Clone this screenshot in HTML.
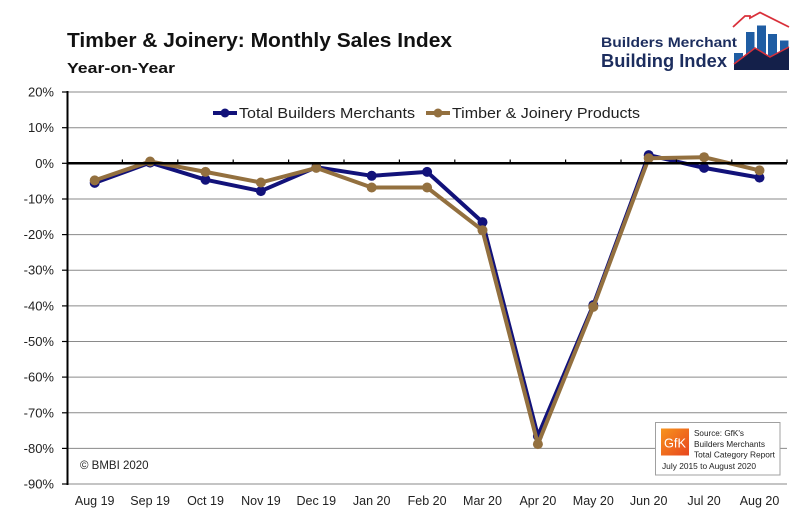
<!DOCTYPE html>
<html>
<head>
<meta charset="utf-8">
<style>
html,body{margin:0;padding:0;background:#fff;}
svg{display:block;}
text{font-family:"Liberation Sans",Arial,sans-serif;}
</style>
</head>
<body>
<svg width="800" height="522" viewBox="0 0 800 522" xmlns="http://www.w3.org/2000/svg">
<rect width="800" height="522" fill="#fff"/>
<!-- Title -->
<text x="67" y="47" font-size="20" font-weight="bold" fill="#111" textLength="385" lengthAdjust="spacingAndGlyphs">Timber &amp; Joinery: Monthly Sales Index</text>
<text x="67" y="73" font-size="15" font-weight="bold" fill="#111" textLength="108" lengthAdjust="spacingAndGlyphs">Year-on-Year</text>

<!-- Logo -->
<text x="601" y="47" font-size="14" font-weight="bold" fill="#1c2d5e" textLength="136" lengthAdjust="spacingAndGlyphs">Builders Merchant</text>
<text x="601" y="67" font-size="18" font-weight="bold" fill="#1c2d5e" textLength="126" lengthAdjust="spacingAndGlyphs">Building Index</text>
<g>
<rect x="734" y="53" width="9" height="17" fill="#1f5da3"/>
<rect x="746" y="32" width="8.5" height="38" fill="#1f5da3"/>
<rect x="757" y="25.5" width="9" height="44.5" fill="#1f5da3"/>
<rect x="768" y="34" width="9" height="36" fill="#1f5da3"/>
<rect x="780" y="40.5" width="8.5" height="29.5" fill="#1f5da3"/>
<polygon points="734,64 755,48 770,57 789,47 789,70 734,70" fill="#14204a"/>
<polyline points="734,64 755,48 770,57 789,47" fill="none" stroke="#d9303a" stroke-width="1.5"/>
<polyline points="733,27 745,16 750,16 750,18 760,12.5 789,27" fill="none" stroke="#d9303a" stroke-width="1.8"/>
</g>

<!-- Gridlines -->
<g stroke="#8a8a8a" stroke-width="1">
<line x1="67" y1="92" x2="787" y2="92"/>
<line x1="67" y1="127.7" x2="787" y2="127.7"/>
<line x1="67" y1="199" x2="787" y2="199"/>
<line x1="67" y1="234.6" x2="787" y2="234.6"/>
<line x1="67" y1="270.2" x2="787" y2="270.2"/>
<line x1="67" y1="305.9" x2="787" y2="305.9"/>
<line x1="67" y1="341.5" x2="787" y2="341.5"/>
<line x1="67" y1="377.1" x2="787" y2="377.1"/>
<line x1="67" y1="412.8" x2="787" y2="412.8"/>
<line x1="67" y1="448.4" x2="787" y2="448.4"/>
<line x1="67" y1="484" x2="787" y2="484"/>
</g>
<!-- Y axis ticks -->
<g stroke="#000" stroke-width="1.2">
<line x1="62" y1="92" x2="67" y2="92"/>
<line x1="62" y1="127.7" x2="67" y2="127.7"/>
<line x1="62" y1="163.3" x2="67" y2="163.3"/>
<line x1="62" y1="199" x2="67" y2="199"/>
<line x1="62" y1="234.6" x2="67" y2="234.6"/>
<line x1="62" y1="270.2" x2="67" y2="270.2"/>
<line x1="62" y1="305.9" x2="67" y2="305.9"/>
<line x1="62" y1="341.5" x2="67" y2="341.5"/>
<line x1="62" y1="377.1" x2="67" y2="377.1"/>
<line x1="62" y1="412.8" x2="67" y2="412.8"/>
<line x1="62" y1="448.4" x2="67" y2="448.4"/>
<line x1="62" y1="484" x2="67" y2="484"/>
</g>
<line x1="67.5" y1="91" x2="67.5" y2="485" stroke="#000" stroke-width="2"/>

<!-- Y labels -->
<g font-size="13" fill="#222" text-anchor="end">
<text x="54" y="96.5">20%</text>
<text x="54" y="132.2">10%</text>
<text x="54" y="167.8">0%</text>
<text x="54" y="203.5">-10%</text>
<text x="54" y="239.1">-20%</text>
<text x="54" y="274.7">-30%</text>
<text x="54" y="310.4">-40%</text>
<text x="54" y="346">-50%</text>
<text x="54" y="381.6">-60%</text>
<text x="54" y="417.3">-70%</text>
<text x="54" y="452.9">-80%</text>
<text x="54" y="488.5">-90%</text>
</g>

<!-- X labels -->
<g font-size="12.5" fill="#222" text-anchor="middle">
<text x="94.7" y="505">Aug 19</text>
<text x="150.1" y="505">Sep 19</text>
<text x="205.5" y="505">Oct 19</text>
<text x="260.9" y="505">Nov 19</text>
<text x="316.3" y="505">Dec 19</text>
<text x="371.7" y="505">Jan 20</text>
<text x="427.1" y="505">Feb 20</text>
<text x="482.5" y="505">Mar 20</text>
<text x="537.9" y="505">Apr 20</text>
<text x="593.3" y="505">May 20</text>
<text x="648.7" y="505">Jun 20</text>
<text x="704.1" y="505">Jul 20</text>
<text x="759.5" y="505">Aug 20</text>
</g>

<!-- Legend -->
<line x1="213" y1="113" x2="237" y2="113" stroke="#12127a" stroke-width="4"/>
<circle cx="225" cy="113" r="4.5" fill="#12127a"/>
<text x="239" y="118" font-size="15" fill="#222" textLength="176" lengthAdjust="spacingAndGlyphs">Total Builders Merchants</text>
<line x1="426" y1="113" x2="450" y2="113" stroke="#93703f" stroke-width="4"/>
<circle cx="438" cy="113" r="4.5" fill="#93703f"/>
<text x="452" y="118" font-size="15" fill="#222" textLength="188" lengthAdjust="spacingAndGlyphs">Timber &amp; Joinery Products</text>

<!-- Series: Total Builders Merchants -->
<g stroke="#12127a" fill="#12127a">
<polyline fill="none" stroke-width="4" stroke-linejoin="round" points="94.7,182.9 150.1,162.6 205.5,179.7 260.9,191.1 316.3,167.2 371.7,175.8 427.1,171.9 482.5,222.1 537.9,436 593.3,305.1 648.7,155.1 704.1,167.9 759.5,177.6"/>
<g stroke="none">
<circle cx="94.7" cy="182.9" r="5"/><circle cx="150.1" cy="162.6" r="5"/><circle cx="205.5" cy="179.7" r="5"/><circle cx="260.9" cy="191.1" r="5"/><circle cx="316.3" cy="167.2" r="5"/><circle cx="371.7" cy="175.8" r="5"/><circle cx="427.1" cy="171.9" r="5"/><circle cx="482.5" cy="222.1" r="5"/><circle cx="537.9" cy="436" r="5"/><circle cx="593.3" cy="305.1" r="5"/><circle cx="648.7" cy="155.1" r="5"/><circle cx="704.1" cy="167.9" r="5"/><circle cx="759.5" cy="177.6" r="5"/>
</g>
</g>

<!-- Series: Timber & Joinery -->
<g stroke="#93703f" fill="#93703f">
<polyline fill="none" stroke-width="4" stroke-linejoin="round" points="94.7,180.4 150.1,161.5 205.5,171.9 260.9,182.5 316.3,167.9 371.7,187.5 427.1,187.5 482.5,230.3 537.9,444.1 593.3,306.9 648.7,158.3 704.1,157.2 759.5,170.4"/>
<g stroke="none">
<circle cx="94.7" cy="180.4" r="5"/><circle cx="150.1" cy="161.5" r="5"/><circle cx="205.5" cy="171.9" r="5"/><circle cx="260.9" cy="182.5" r="5"/><circle cx="316.3" cy="167.9" r="5"/><circle cx="371.7" cy="187.5" r="5"/><circle cx="427.1" cy="187.5" r="5"/><circle cx="482.5" cy="230.3" r="5"/><circle cx="537.9" cy="444.1" r="5"/><circle cx="593.3" cy="306.9" r="5"/><circle cx="648.7" cy="158.3" r="5"/><circle cx="704.1" cy="157.2" r="5"/><circle cx="759.5" cy="170.4" r="5"/>
</g>
</g>

<!-- Zero axis line with ticks -->
<line x1="67" y1="163.3" x2="787" y2="163.3" stroke="#000" stroke-width="2.5"/>
<g stroke="#000" stroke-width="1.2">
<line x1="122.4" y1="159.5" x2="122.4" y2="163"/>
<line x1="177.8" y1="159.5" x2="177.8" y2="163"/>
<line x1="233.2" y1="159.5" x2="233.2" y2="163"/>
<line x1="288.6" y1="159.5" x2="288.6" y2="163"/>
<line x1="344" y1="159.5" x2="344" y2="163"/>
<line x1="399.4" y1="159.5" x2="399.4" y2="163"/>
<line x1="454.8" y1="159.5" x2="454.8" y2="163"/>
<line x1="510.2" y1="159.5" x2="510.2" y2="163"/>
<line x1="565.6" y1="159.5" x2="565.6" y2="163"/>
<line x1="621" y1="159.5" x2="621" y2="163"/>
<line x1="676.4" y1="159.5" x2="676.4" y2="163"/>
<line x1="731.8" y1="159.5" x2="731.8" y2="163"/>
<line x1="787" y1="159.5" x2="787" y2="163"/>
</g>

<!-- Copyright -->
<text x="80" y="469" font-size="11.5" fill="#222">© BMBI 2020</text>

<!-- GfK source box -->
<rect x="655.5" y="422.5" width="124.5" height="52.5" fill="#fff" stroke="#a0a0a0" stroke-width="1"/>
<defs>
<linearGradient id="gfk" x1="0" y1="0" x2="1" y2="1">
<stop offset="0" stop-color="#f7941d"/>
<stop offset="1" stop-color="#e8461e"/>
</linearGradient>
</defs>
<rect x="661" y="428.5" width="28" height="27" fill="url(#gfk)"/>
<text x="675" y="447.5" font-size="13" fill="#fff" text-anchor="middle" textLength="22" lengthAdjust="spacingAndGlyphs">GfK</text>
<g font-size="8.5" fill="#222">
<text x="694" y="436" textLength="50" lengthAdjust="spacingAndGlyphs">Source: GfK's</text>
<text x="694" y="447" textLength="71" lengthAdjust="spacingAndGlyphs">Builders Merchants</text>
<text x="694" y="457.5" textLength="81" lengthAdjust="spacingAndGlyphs">Total Category Report</text>
<text x="662" y="469" textLength="94" lengthAdjust="spacingAndGlyphs">July 2015 to August 2020</text>
</g>
</svg>
</body>
</html>
